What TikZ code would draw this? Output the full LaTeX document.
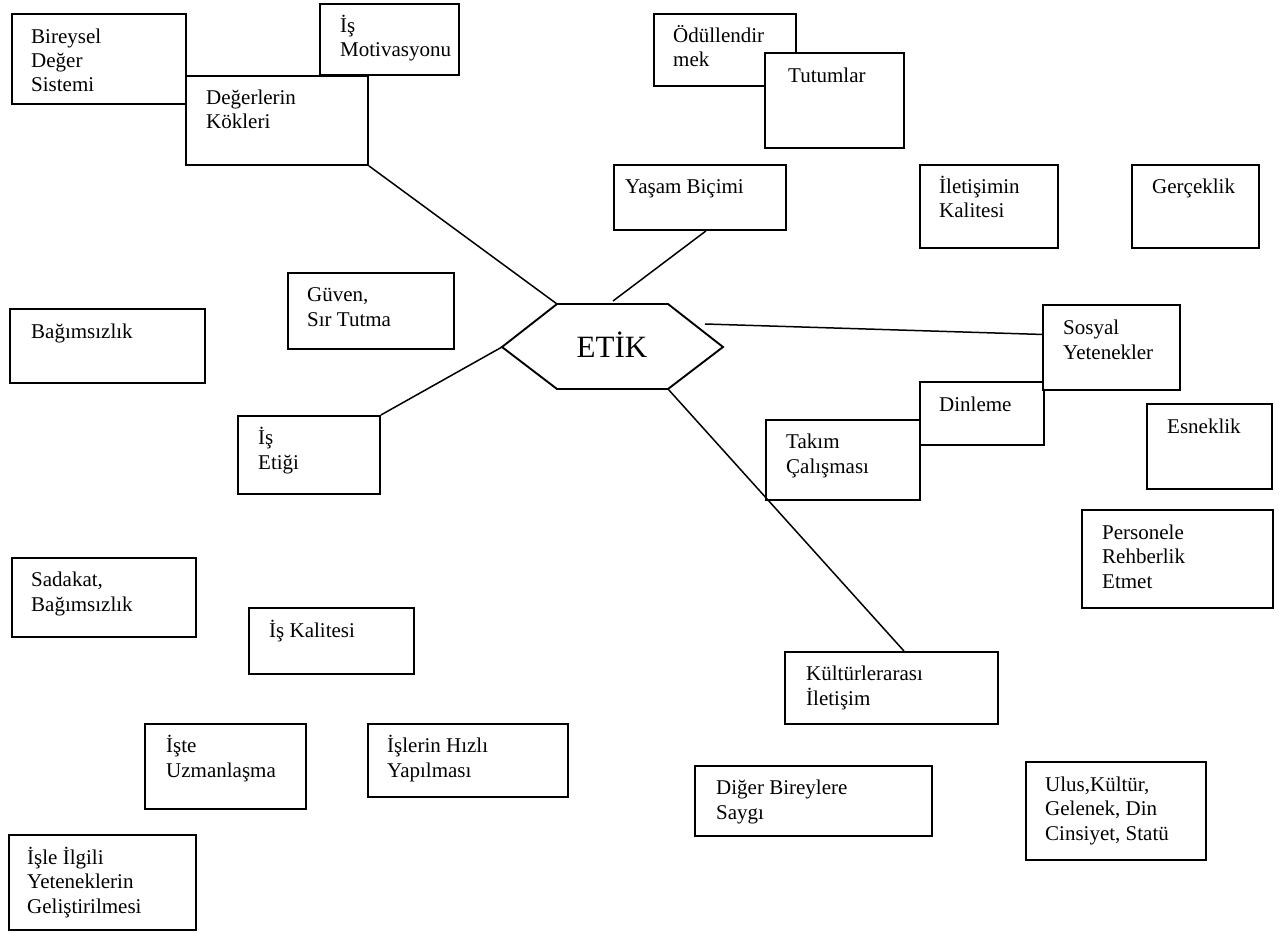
\documentclass[tikz,border=0pt]{standalone}
\usepackage{fontspec}
\setmainfont{Liberation Serif}
\usetikzlibrary{positioning}

\begin{document}
\begin{tikzpicture}[x=1pt,y=-1pt]
  \tikzstyle{kutu}=[draw, line width=1.9pt, fill=white, anchor=north west, inner sep=0pt]
  \tikzstyle{yazi}=[anchor=base west, align=left, inner sep=0pt, font=\fontsize{21}{24.4}\selectfont]
  \tikzstyle{bag}=[line width=1.5pt]

  \useasboundingbox (0,0) rectangle (1279,933);

  % altigen
  \coordinate (h1) at (502,347);
  \coordinate (h2) at (557,304);
  \coordinate (h3) at (668,304);
  \coordinate (h4) at (723,347);
  \coordinate (h5) at (668,389);
  \coordinate (h6) at (557,389);
  \draw[line width=1.9pt] (h1) -- (h2) -- (h3) -- (h4) -- (h5) -- (h6) -- cycle;
  \node[anchor=base, inner sep=0pt, font=\fontsize{31}{36}\selectfont] (etik) at (612,357) {ETİK};

  % kutular (yazi: son satirin tabani)
  \node[kutu, minimum width=174, minimum height=90] (bireysel) at (11,13) {};
  \node[yazi] (bireyselT) at (31,92) {Bireysel\\Değer\\Sistemi};
  \node[kutu, minimum width=182, minimum height=89] (degerler) at (185,75) {};
  \node[yazi] (degerlerT) at (206,129) {Değerlerin\\Kökleri};
  \node[kutu, minimum width=139, minimum height=71] (motiv) at (319,3) {};
  \node[yazi] (motivT) at (340,57) {İş\\Motivasyonu};

  \node[kutu, minimum width=142, minimum height=72] (odul) at (653,13) {};
  \node[yazi] (odulT) at (673,67) {Ödüllendir\\mek};
  \node[kutu, minimum width=139, minimum height=95] (tutum) at (764,52) {};
  \node[yazi] (tutumT) at (788,83) {Tutumlar};
  \node[kutu, minimum width=172, minimum height=65] (yasam) at (613,164) {};
  \node[yazi] (yasamT) at (625,194) {Yaşam Biçimi};
  \node[kutu, minimum width=138, minimum height=83] (iletisim) at (919,164) {};
  \node[yazi] (iletisimT) at (939,218) {İletişimin\\Kalitesi};
  \node[kutu, minimum width=127, minimum height=83] (gercek) at (1131,164) {};
  \node[yazi] (gercekT) at (1152,194) {Gerçeklik};

  \node[kutu, minimum width=166, minimum height=76] (guven) at (287,272) {};
  \node[yazi] (guvenT) at (307,326) {Güven,\\Sır Tutma};
  \node[kutu, minimum width=195, minimum height=74] (bagimsiz) at (9,308) {};
  \node[yazi] (bagimsizT) at (31,338) {Bağımsızlık};
  \node[kutu, minimum width=142, minimum height=78] (isetik) at (237,415) {};
  \node[yazi] (isetikT) at (258,469) {İş\\Etiği};

  \node[kutu, minimum width=124, minimum height=63] (dinle) at (919,381) {};
  \node[yazi] (dinleT) at (939,411) {Dinleme};
  \node[kutu, minimum width=137, minimum height=85] (sosyal) at (1042,304) {};
  \node[yazi] (sosyalT) at (1063,359) {Sosyal\\Yetenekler};
  \node[kutu, minimum width=154, minimum height=80] (takim) at (765,419) {};
  \node[yazi] (takimT) at (786,473) {Takım\\Çalışması};
  \node[kutu, minimum width=125, minimum height=85] (esnek) at (1146,403) {};
  \node[yazi] (esnekT) at (1167,433) {Esneklik};
  \node[kutu, minimum width=191, minimum height=98] (rehber) at (1081,509) {};
  \node[yazi] (rehberT) at (1102,588) {Personele\\Rehberlik\\Etmet};

  \node[kutu, minimum width=184, minimum height=79] (sadakat) at (11,557) {};
  \node[yazi] (sadakatT) at (31,611) {Sadakat,\\Bağımsızlık};
  \node[kutu, minimum width=165, minimum height=66] (kalite) at (248,607) {};
  \node[yazi] (kaliteT) at (269,637) {İş Kalitesi};
  \node[kutu, minimum width=161, minimum height=85] (uzman) at (144,723) {};
  \node[yazi] (uzmanT) at (166,777) {İşte\\Uzmanlaşma};
  \node[kutu, minimum width=200, minimum height=73] (hizli) at (367,723) {};
  \node[yazi] (hizliT) at (387,777) {İşlerin Hızlı\\Yapılması};
  \node[kutu, minimum width=187, minimum height=95] (ilgili) at (8,834) {};
  \node[yazi] (ilgiliT) at (27,913) {İşle İlgili\\Yeteneklerin\\Geliştirilmesi};

  \node[kutu, minimum width=213, minimum height=72] (kultur) at (784,651) {};
  \node[yazi] (kulturT) at (806,705) {Kültürlerarası\\İletişim};
  \node[kutu, minimum width=237, minimum height=70] (saygi) at (694,765) {};
  \node[yazi] (saygiT) at (716,819) {Diğer Bireylere\\Saygı};
  \node[kutu, minimum width=180, minimum height=98] (ulus) at (1025,761) {};
  \node[yazi] (ulusT) at (1045,840) {Ulus,Kültür,\\Gelenek, Din\\Cinsiyet, Statü};

  % baglantilar
  \coordinate (yucu) at (613,301);
  \coordinate (sucu) at (705,324);
  \draw[bag] (degerler.south east) -- (h2);
  \draw[bag] ([xshift=6pt]yasam.south) -- (yucu);
  \draw[bag] (isetik.north east) -- (h1);
  \draw[bag] (sucu) -- ([yshift=13pt]sosyal.west);
  \draw[bag] (h5) -- ([xshift=12.5pt]kultur.north);
\end{tikzpicture}
\end{document}
